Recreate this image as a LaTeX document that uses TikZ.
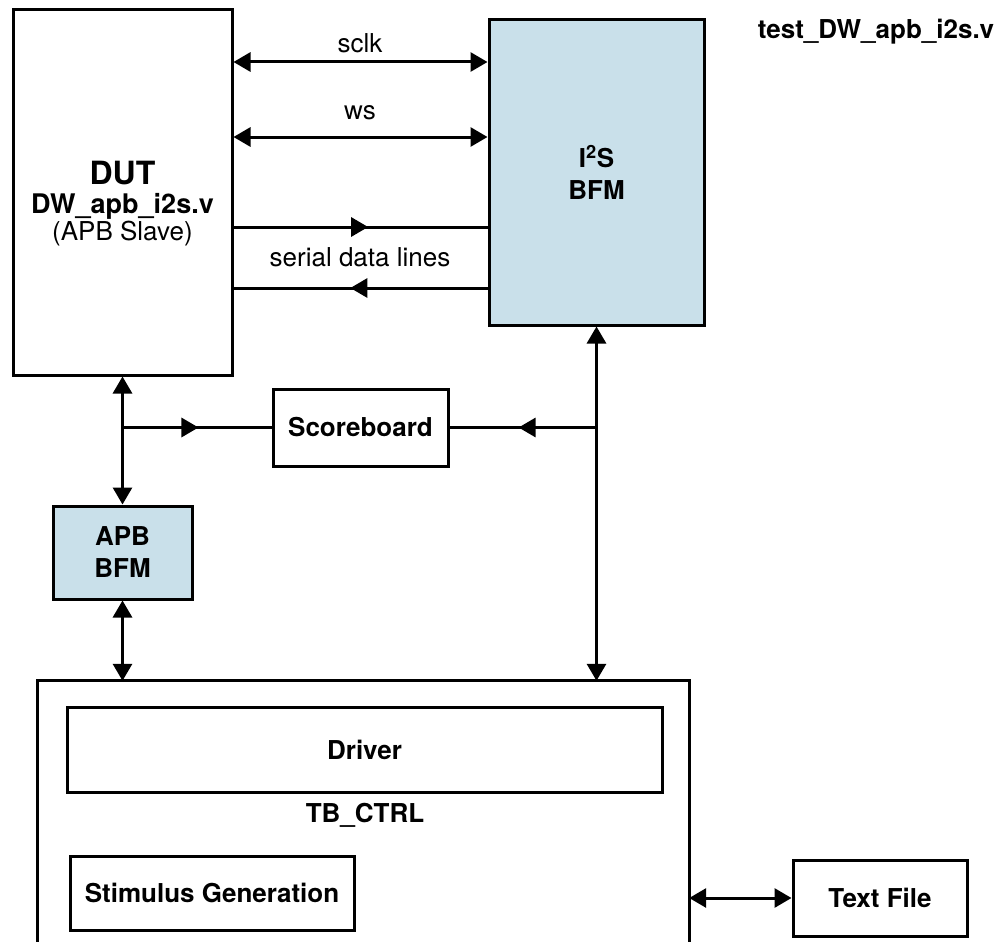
\documentclass[tikz,border=0pt]{standalone}
\usepackage{fontspec}
\setmainfont{TeX Gyre Heros}
\usetikzlibrary{arrows.meta,decorations.markings}
\definecolor{bfmblue}{RGB}{201,224,234}
\begin{document}
\begin{tikzpicture}[x=1pt,y=-1pt,
  >={Triangle[length=17pt,width=19pt]},
  box/.style={draw,line width=3pt,inner sep=0pt,align=center,
    font=\fontsize{26}{32}\selectfont\bfseries},
  bfmbox/.style={box,fill=bfmblue},
  txt/.style={inner sep=0pt,font=\fontsize{26}{31}\selectfont},
  btxt/.style={inner sep=0pt,font=\fontsize{26}{31}\selectfont\bfseries},
  wire/.style={line width=3pt},
  bidir/.style={wire,<->},
  flowmark/.style={wire,postaction={decorate},
    decoration={markings,mark=at position #1 with {\arrow{>}}}}]

\useasboundingbox (0,0) rectangle (1002,942);
\clip (0,0) rectangle (1002,942);

% device under test
\node[box,minimum width=219pt,minimum height=365pt] (dut) at (122.5,192.5) {};
\node[btxt,anchor=base,font=\fontsize{32}{35}\selectfont\bfseries] (dutname) at (122.5,184) {DUT};
\node[btxt,anchor=base,font=\fontsize{27}{31}\selectfont\bfseries] (dutfile) at (122.5,213) {DW\_apb\_i2s.v};
\node[txt,anchor=base] (dutrole) at (122.5,240) {(APB Slave)};

% I2S bus functional model
\node[bfmbox,minimum width=215pt,minimum height=305pt] (i2s) at (596.5,172.5)
  {I\textsuperscript{2}S\\BFM};

% testbench file name
\node[btxt] (title) at (876,32) {test\_DW\_apb\_i2s.v};

% I2S interface signals
\draw[bidir] (dut.east |- 0,62) -- (i2s.west |- 0,62);
\node[txt] (sclk) at (360,43) {sclk};
\draw[bidir] (dut.east |- 0,137) -- (i2s.west |- 0,137);
\node[txt] (ws) at (360,113) {ws};
\draw[flowmark=0.53] (dut.east |- 0,227) -- (i2s.west |- 0,227);
\node[txt] (sdl) at (360,257) {serial data lines};
\draw[flowmark=0.54] (i2s.west |- 0,288) -- (dut.east |- 0,288);

% scoreboard and its taps
\node[box,minimum width=175pt,minimum height=77pt] (sb) at (360.5,427.5) {Scoreboard};
\coordinate (jl) at (dut.south |- sb.west);
\coordinate (jr) at (i2s.south |- sb.east);
\draw[flowmark=0.51] (jl) -- (sb.west);
\draw[flowmark=0.53] (jr) -- (sb.east);

% APB bus functional model
\node[bfmbox,minimum width=139pt,minimum height=93pt] (apb) at (122.5,552.5) {APB\\BFM};
\draw[bidir] (dut.south) -- (apb.north);

% testbench controller (open at the bottom)
\node[minimum width=651pt,minimum height=290pt,inner sep=0pt] (tb) at (363.5,826) {};
\draw[wire] (tb.south west) -- (tb.north west) -- (tb.north east) -- (tb.south east);
\draw[bidir] (apb.south) -- (apb.south |- tb.north);
\draw[bidir] (i2s.south) -- (i2s.south |- tb.north);

\node[box,minimum width=595pt,minimum height=85pt] (drv) at (364.5,749.5) {Driver};
\node[btxt] (tbname) at (365,815) {TB\_CTRL};
\node[box,minimum width=284pt,minimum height=74pt] (stim) at (212,893) {Stimulus Generation};

% external stimulus file
\node[box,minimum width=174pt,minimum height=76pt] (tf) at (880,898) {Text File};
\draw[bidir] (tb.east |- tf.west) -- (tf.west);
\end{tikzpicture}
\end{document}
